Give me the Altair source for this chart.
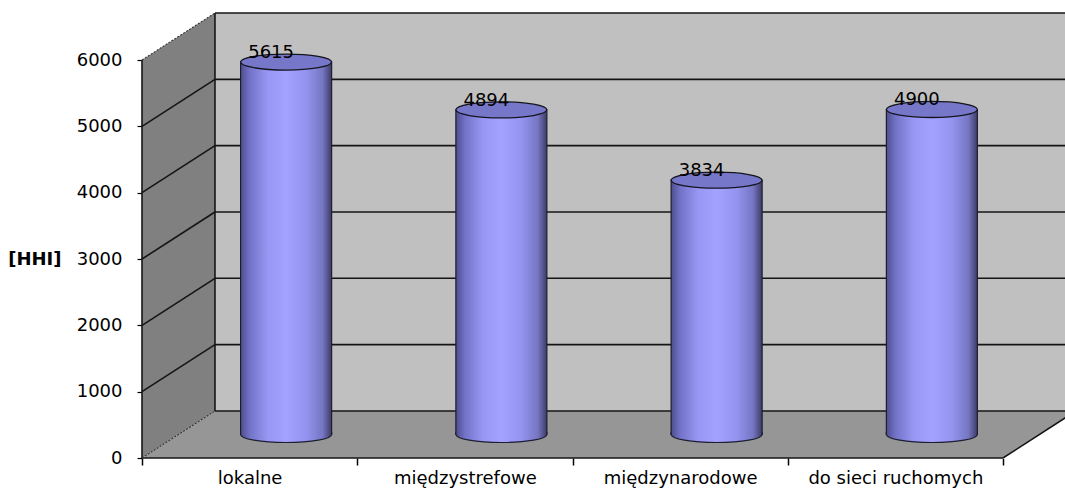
import altair as alt
import pandas as pd

# ---- data -------------------------------------------------------------
categories = ["lokalne", "międzystrefowe", "międzynarodowe", "do sieci ruchomych"]
hhi = [5615, 4894, 3834, 4900]
y_ticks = [0, 1000, 2000, 3000, 4000, 5000, 6000]

# ---- oblique 3-D box, expressed in data units -------------------------
DEPTH_X = 0.339     # depth shift along x (category units)
DEPTH_Y = 709       # depth shift along y (HHI units)
X_MAX = 4.288
Y_MAX = 6905
Y_TOP = 6000
N = len(categories)
HALF_W = 0.2114     # half width of a cylinder (category units)
CYL_PX = 91         # cylinder diameter on screen, for the ellipse symbols

FONT = "DejaVu Sans"
FS = 18
x_scale = alt.Scale(domain=[0, X_MAX], nice=False, zero=False)
y_scale = alt.Scale(domain=[0, Y_MAX], nice=False)

label_expr = "[" + ",".join(f"'{c}'" for c in categories) + "][datum.value] || ''"
x_axis = alt.Axis(values=list(range(N + 1)), labelExpr=label_expr,
                  labelOffset=107.6, tickSize=7, tickColor="#000", tickWidth=1.5,
                  domain=False, grid=False, title=None, labelFont=FONT,
                  labelFontSize=FS, labelColor="#000", labelPadding=4,
                  labelBound=False, labelOverlap=False, labelFlush=False)
y_axis = alt.Axis(values=y_ticks, format="d", tickSize=5, tickColor="#000",
                  tickWidth=1.2, domain=False, grid=False, labelFont=FONT,
                  labelFontSize=FS, labelColor="#000", labelPadding=15,
                  title="[HHI]", titleAngle=0, titleAlign="right",
                  titleBaseline="middle", titleX=-81, titleY=259,
                  titleFont=FONT, titleFontSize=FS, titleFontWeight="bold",
                  titleColor="#000")

def X(field="x"):
    return alt.X(f"{field}:Q", scale=x_scale, axis=x_axis)

def Y(field="y"):
    return alt.Y(f"{field}:Q", scale=y_scale, axis=y_axis)

# back wall
back = pd.DataFrame({"x": [DEPTH_X], "x2": [X_MAX + 0.2],
                     "y": [DEPTH_Y], "y2": [Y_TOP + DEPTH_Y]})
back_wall = alt.Chart(back).mark_rect(color="#c0c0c0", clip=True).encode(
    x=X(), x2="x2:Q", y=Y(), y2="y2:Q")

# left side wall
side = pd.DataFrame({"x": [0, DEPTH_X], "y": [0, DEPTH_Y],
                     "y2": [Y_TOP, Y_TOP + DEPTH_Y]})
side_wall = alt.Chart(side).mark_area(color="#808080", orient="vertical").encode(
    x=X(), y=Y(), y2="y2:Q")

# floor
floor = pd.DataFrame({"x": [0, DEPTH_X, N, N + DEPTH_X],
                      "y": [0, 0, 0, DEPTH_Y],
                      "y2": [0, DEPTH_Y, DEPTH_Y, DEPTH_Y]})
floor_area = alt.Chart(floor).mark_area(color="#969696", orient="vertical", clip=True).encode(
    x=X(), y=Y(), y2="y2:Q")

# grid lines and edges of the box that run past the right border
clipped_rows = [
    (N, N + DEPTH_X, 0, DEPTH_Y),                   # floor right edge
    (DEPTH_X, X_MAX + 0.2, DEPTH_Y, DEPTH_Y),       # floor back edge
]
for t in y_ticks[1:]:
    clipped_rows.append((DEPTH_X, X_MAX + 0.2, t + DEPTH_Y, t + DEPTH_Y))
clipped = pd.DataFrame(clipped_rows, columns=["x", "x2", "y", "y2"])
clipped_edges = alt.Chart(clipped).mark_rule(color="#151515", strokeWidth=1.6, clip=True).encode(
    x=X(), x2="x2:Q", y=Y(), y2="y2:Q")

# edges inside the view
open_rows = [
    (0, N, 0, 0),                                   # floor front edge
    (0, 0, 0, Y_TOP),                               # front vertical axis
    (DEPTH_X, DEPTH_X, DEPTH_Y, Y_TOP + DEPTH_Y),   # back wall left edge
]
for t in y_ticks[1:-1]:
    open_rows.append((0, DEPTH_X, t, t + DEPTH_Y))  # side wall grid lines
open_df = pd.DataFrame(open_rows, columns=["x", "x2", "y", "y2"])
open_edges = alt.Chart(open_df).mark_rule(color="#151515", strokeWidth=1.6).encode(
    x=X(), x2="x2:Q", y=Y(), y2="y2:Q")

dotted = pd.DataFrame([(0, DEPTH_X, 0, DEPTH_Y), (0, DEPTH_X, Y_TOP, Y_TOP + DEPTH_Y)],
                      columns=["x", "x2", "y", "y2"])
dotted_edges = alt.Chart(dotted).mark_rule(color="#333", strokeWidth=1.1,
                                           strokeDash=[2, 1.5]).encode(
    x=X(), x2="x2:Q", y=Y(), y2="y2:Q")

# ---- cylinders ---------------------------------------------------------
cyl = pd.DataFrame({"category": categories, "hhi": hhi})
cyl["cx"] = [i + 0.5 + DEPTH_X / 2 for i in range(N)]
cyl["left"] = cyl["cx"] - HALF_W
cyl["right"] = cyl["cx"] + HALF_W
cyl["base"] = DEPTH_Y / 2
cyl["top"] = cyl["hhi"] + DEPTH_Y / 2

body_fill = alt.Gradient(
    gradient="linear", x1=0, x2=1, y1=0, y2=0,
    stops=[alt.GradientStop(color="#4e4e8c", offset=0),
           alt.GradientStop(color="#7272c8", offset=0.1),
           alt.GradientStop(color="#9898f4", offset=0.3),
           alt.GradientStop(color="#a3a3ff", offset=0.5),
           alt.GradientStop(color="#9494f0", offset=0.72),
           alt.GradientStop(color="#7676c4", offset=0.9),
           alt.GradientStop(color="#3c3c66", offset=1)])

K = 0.5523
RY = 0.176
# lower half of the base ellipse, with a thin strip above the centre line
lower_half = (f"M -1 -0.06 L -1 0 C -1 {RY*K:.4f} {-K} {RY} 0 {RY} "
              f"C {K} {RY} 1 {RY*K:.4f} 1 0 L 1 -0.06")
full_ellipse = (f"M -1 0 C -1 {-RY*K:.4f} {-K} {-RY} 0 {-RY} "
                f"C {K} {-RY} 1 {-RY*K:.4f} 1 0 "
                f"C 1 {RY*K:.4f} {K} {RY} 0 {RY} "
                f"C {-K} {RY} -1 {RY*K:.4f} -1 0 Z")

body = alt.Chart(cyl).mark_rect(color=body_fill, stroke="#1e1e30", strokeWidth=1.2).encode(
    x=X("left"), x2="right:Q", y=Y("base"), y2="top:Q")

base_cap = alt.Chart(cyl).mark_point(
    shape=lower_half, size=CYL_PX ** 2, filled=True, fill=body_fill, opacity=1,
    stroke="#1e1e30", strokeWidth=1.2).encode(
    x=X("cx"), y=Y("base"))

top_cap = alt.Chart(cyl).mark_point(
    shape=full_ellipse, size=CYL_PX ** 2, filled=True, fill="#7777c9", opacity=1,
    stroke="#15151f", strokeWidth=1.3).encode(
    x=X("cx"), y=Y("top"))

labels = alt.Chart(cyl).mark_text(
    font=FONT, fontSize=FS, color="#000", dx=-15, dy=-4, baseline="alphabetic").encode(
    x=X("cx"), y=Y("top"), text="hhi:Q")

chart = alt.layer(
    back_wall, side_wall, floor_area, clipped_edges, open_edges, dotted_edges,
    body, base_cap, top_cap, labels
).properties(
    width=923, height=458,
    padding={"left": 142, "top": 0, "right": 0, "bottom": 37},
    autosize=alt.AutoSizeParams(type="none"),
    background="white",
).configure_view(stroke=None)

chart.save("out.html", embed_options={"renderer": "svg", "actions": False})
